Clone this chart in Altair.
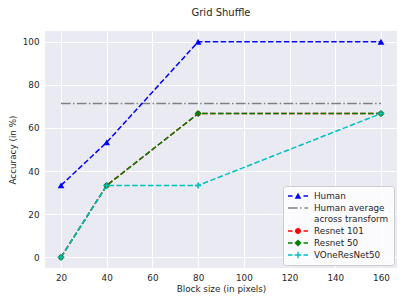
import altair as alt
import pandas as pd

# ---- data ----
blocks = [20, 40, 80, 160]
human = [33.33, 53.33, 100.0, 100.0]
human_avg_blocks = [20, 160]
human_avg = [71.4, 71.4]
resnet101 = [0.0, 33.33, 66.67, 66.67]
resnet50 = [0.0, 33.33, 66.67, 66.67]
vone = [0.0, 33.33, 33.33, 66.67]

series_names = ["Human", "Human average\n\u00a0across transform", "Resnet 101", "Resnet 50", "VOneResNet50"]
series_colors = ["#0000ff", "#808080", "#ff0000", "#008000", "#00bfbf"]

plus_path = "M-1,-0.25H1V0.25H-1Z M-0.25,-1H0.25V1H-0.25Z"

# legend symbol paths (unit = 5px): dashed line + marker, 20px wide
dash_lr = "M-2,-0.15H-1.1V0.15H-2Z M1.1,-0.15H2V0.15H1.1Z "
legend_paths = [
    dash_lr + "M-0.66,0.56L0,-0.66L0.66,0.56Z",
    "M-2,-0.15H-0.1V0.15H-2Z M0.4,-0.15H0.7V0.15H0.4Z M1.3,-0.15H2V0.15H1.3Z",
    dash_lr + "M-0.6,0A0.6,0.6 0 1,0 0.6,0A0.6,0.6 0 1,0 -0.6,0Z",
    dash_lr + "M0,-0.72L0.72,0L0,0.72L-0.72,0Z",
    dash_lr + "M-0.66,-0.14H0.66V0.14H-0.66Z M-0.14,-0.66H0.14V0.66H-0.14Z",
]

rows = []
for b, v in zip(blocks, human):
    rows.append({"block": b, "acc": v, "series": series_names[0]})
for b, v in zip(human_avg_blocks, human_avg):
    rows.append({"block": b, "acc": v, "series": series_names[1]})
for i, vals in [(2, resnet101), (3, resnet50), (4, vone)]:
    for b, v in zip(blocks, vals):
        rows.append({"block": b, "acc": v, "series": series_names[i]})
df = pd.DataFrame(rows)

x_enc = alt.X("block:Q", scale=alt.Scale(domain=[13, 167], nice=False, zero=False),
              axis=alt.Axis(values=[20, 40, 60, 80, 100, 120, 140, 160], title="Block size (in pixels)"))
y_enc = alt.Y("acc:Q", scale=alt.Scale(domain=[-5, 105], nice=False, zero=False),
              axis=alt.Axis(values=[0, 20, 40, 60, 80, 100], title="Accuracy (in %)"))

leg = alt.Legend(
    title=None,
    orient="none",
    legendX=238,
    legendY=155,
    labelExpr="split(datum.label, '\\n')",
    labelFontSize=8.8,
    labelColor="#262626",
    labelOffset=11,
    rowPadding=2,
    padding=5,
    fillColor="rgba(255,255,255,0.8)",
    strokeColor="#cccccc",
    cornerRadius=3,
    symbolSize=100,
    symbolStrokeWidth=0,
    symbolOpacity=1,
    symbolOffset=5,
)

color_enc = alt.Color("series:N", scale=alt.Scale(domain=series_names, range=series_colors),
                      sort=series_names, legend=leg)

legend_layer = alt.Chart(df).transform_filter("false").mark_point(filled=True, opacity=1).encode(
    x=x_enc,
    y=y_enc,
    color=color_enc,
    shape=alt.Shape("series:N", scale=alt.Scale(domain=series_names, range=legend_paths),
                    sort=series_names, legend=leg),
)

dashed_lines = alt.Chart(df).transform_filter(
    alt.datum.series != series_names[1]
).mark_line(strokeWidth=1.5, strokeDash=[5.5, 2.4]).encode(x=x_enc, y=y_enc, color=color_enc)

avg_line = alt.Chart(df).transform_filter(
    alt.datum.series == series_names[1]
).mark_line(strokeWidth=1.5, strokeDash=[9.6, 2.4, 1.5, 2.4]).encode(x=x_enc, y=y_enc, color=color_enc)


def pts(name, shape, size):
    return alt.Chart(df).transform_filter(alt.datum.series == name).mark_point(
        filled=True, opacity=1, shape=shape, size=size
    ).encode(x=x_enc, y=y_enc, color=color_enc)


layers = [
    legend_layer,
    avg_line,
    dashed_lines,
    pts(series_names[0], "triangle-up", 45),
    pts(series_names[2], "circle", 26),
    pts(series_names[3], "diamond", 50),
    pts(series_names[4], plus_path, 40),
]

chart = alt.layer(*layers).properties(
    width=352,
    height=237,
    title=alt.TitleParams("Grid Shuffle", fontSize=10, fontWeight="normal", color="#262626", offset=13, anchor="middle"),
    autosize=alt.AutoSizeParams(type="none"),
    padding={"left": 37, "top": 23, "right": 2, "bottom": 29},
).configure(
    font="DejaVu Sans",
).configure_view(
    fill="#eaeaf2", stroke=None,
).configure_axis(
    domain=False, ticks=False, grid=True, gridColor="white", gridWidth=1,
    labelFontSize=8.8, labelColor="#262626", titleFontSize=8.8, titleColor="#262626",
    titleFontWeight="normal", labelPadding=6,
).configure_axisX(
    labelPadding=5, titlePadding=3,
).configure_axisY(
    titlePadding=5,
)

chart.save("out.html", embed_options={"renderer": "svg", "actions": False})
